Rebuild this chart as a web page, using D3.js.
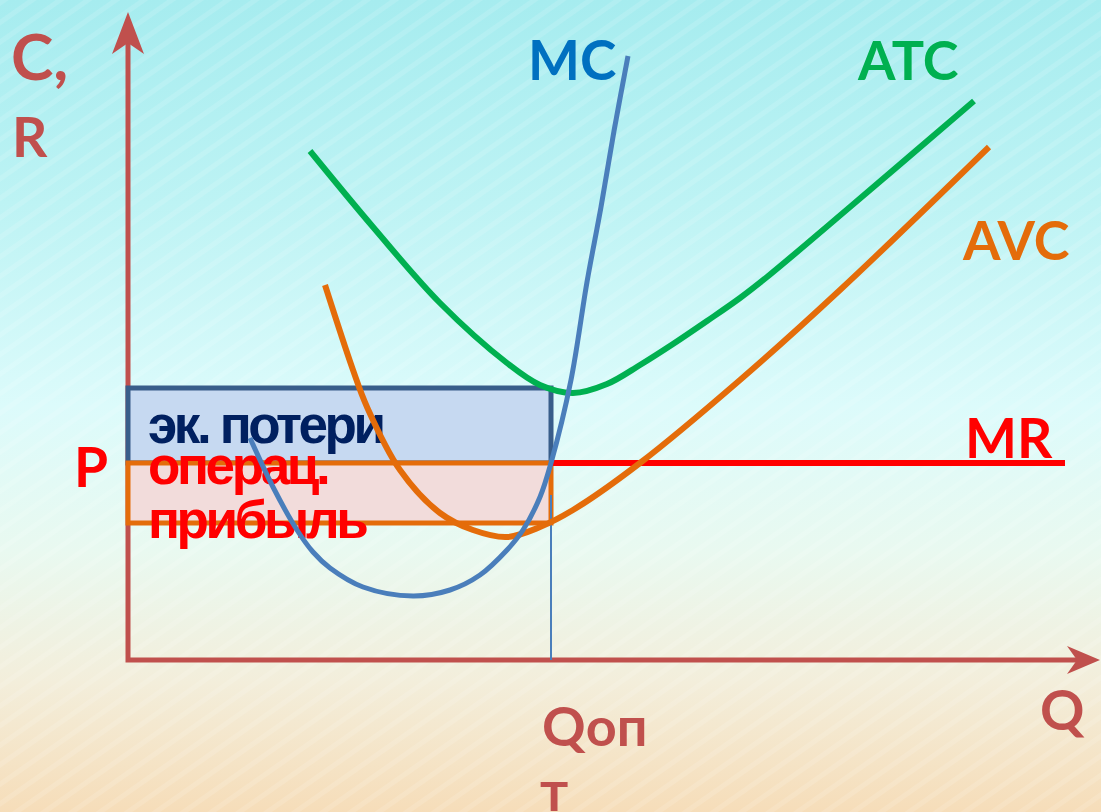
<!DOCTYPE html>
<html>
<head>
<meta charset="utf-8">
<script src="https://cdn.jsdelivr.net/npm/d3@7"></script>
<style>
  html, body { margin: 0; padding: 0; overflow: hidden; background: #fff; }
  svg { display: block; }
</style>
</head>
<body>
<script>
// ---- Cost curves: quantity (Q) and cost (C) values ----
const mcQ  = [12.2, 14.5, 16.9, 18.5, 20.2, 23.5, 28.5, 32.2, 35.2, 37.9, 39.5, 41.2, 42.3, 44.3, 45.9, 47.3, 48.6, 50.0];
const mcC  = [22.2, 17.3, 13.0, 10.8,  9.2,  7.3,  6.4,  7.0,  8.5, 11.0, 13.0, 16.3, 19.7, 28.0, 37.8, 45.3, 52.9, 60.4];

const atcQ = [18.2, 24.5, 31.2, 37.9, 41.2, 44.5, 47.9, 51.2, 54.5, 57.9, 61.2, 63.9, 72.2, 84.6];
const atcC = [50.9, 43.3, 35.7, 29.7, 27.5, 26.7, 27.6, 29.5, 31.6, 33.9, 36.2, 38.3, 45.3, 55.9];

const avcQ = [19.7, 22.5, 23.9, 27.2, 31.2, 34.5, 37.9, 41.2, 44.5, 51.2, 61.2, 71.2, 86.1];
const avcC = [37.5, 29.0, 25.3, 19.0, 14.7, 13.0, 12.3, 13.3, 15.0, 19.7, 28.0, 37.0, 51.3];

// ---- Key levels ----
const price  = 19.7;   // P = MR
const qOpt   = 42.3;   // optimal output
const atcOpt = 27.2;   // ATC at optimal output
const avcOpt = 13.7;   // AVC at optimal output
const mrEnd  = 93.7;   // right end of the MR line
const qMax   = 97.2;   // end of the Q axis
const cMax   = 64.8;   // end of the C axis

// ---- Labels ----
const curveLabels = ["MC", "ATC", "AVC", "MR"];
const axisLabels  = ["C,", "R", "Q", "P", "Qоп", "т"];
const areaLabels  = ["эк. потери", "операц.", "прибыль"];

const W = 1101, H = 812;
const svg = d3.select("body").append("svg").attr("width", W).attr("height", H);

const x = d3.scaleLinear().domain([0, qMax]).range([128, 1100]);
const y = d3.scaleLinear().domain([0, cMax]).range([660, 12]);

// ---- Background ----
const defs = svg.append("defs");
const bg = defs.append("linearGradient").attr("id", "bg")
  .attr("x1", 0).attr("y1", 0).attr("x2", 0).attr("y2", 1);
[[0, "#a6ecef"], [0.25, "#bdf3f4"], [0.5, "#dcfbfb"], [0.68, "#e9f9f0"],
 [0.84, "#f3eedb"], [1, "#f6ddb9"]].forEach(([o, c]) =>
  bg.append("stop").attr("offset", o).attr("stop-color", c));

const streaks = defs.append("pattern").attr("id", "streaks")
  .attr("width", 16).attr("height", 16)
  .attr("patternUnits", "userSpaceOnUse")
  .attr("patternTransform", "rotate(-35)");
streaks.append("rect").attr("width", 16).attr("height", 5)
  .attr("fill", "#ffffff").attr("opacity", 0.12);

svg.append("rect").attr("width", W).attr("height", H).attr("fill", "url(#bg)");
svg.append("rect").attr("width", W).attr("height", H).attr("fill", "url(#streaks)");

// ---- Axes ----
const axisColor = "#c0504d";
svg.append("path")
  .attr("d", `M${x(0)},${y(cMax) + 25} L${x(0)},${y(0)} L${x(qMax) - 20},${y(0)}`)
  .attr("fill", "none").attr("stroke", axisColor).attr("stroke-width", 5);
// arrow heads
const yTip = [x(0), y(cMax)];
svg.append("path")
  .attr("d", `M${yTip[0]},${yTip[1]} L${yTip[0] + 16},${yTip[1] + 42} L${yTip[0]},${yTip[1] + 31} L${yTip[0] - 16},${yTip[1] + 42} Z`)
  .attr("fill", axisColor);
const xTip = [x(qMax), y(0)];
svg.append("path")
  .attr("d", `M${xTip[0]},${xTip[1]} L${xTip[0] - 33},${xTip[1] + 14} L${xTip[0] - 23},${xTip[1]} L${xTip[0] - 33},${xTip[1] - 14} Z`)
  .attr("fill", axisColor);

// ---- Shaded areas ----
svg.append("rect")
  .attr("x", x(0)).attr("y", y(atcOpt))
  .attr("width", x(qOpt) - x(0)).attr("height", y(price) - y(atcOpt))
  .attr("fill", "#c6d9f1").attr("stroke", "#385d8a").attr("stroke-width", 5);
svg.append("rect")
  .attr("x", x(0)).attr("y", y(price))
  .attr("width", x(qOpt) - x(0)).attr("height", y(avcOpt) - y(price))
  .attr("fill", "#f2dcdb").attr("stroke", "#e46c0a").attr("stroke-width", 5);

// ---- Area labels ----
const areaStyle = (sel, color) => sel
  .attr("font-family", "'Liberation Sans', Arial, sans-serif")
  .attr("font-weight", 700).attr("font-size", 53)
  .attr("letter-spacing", -3.4).attr("fill", color);
areaStyle(svg.append("text").attr("x", 148).attr("y", 443).text(areaLabels[0]), "#002060");
areaStyle(svg.append("text").attr("x", 148).attr("y", 484).text(areaLabels[1]), "#ff0000");
areaStyle(svg.append("text").attr("x", 148).attr("y", 538).text(areaLabels[2]), "#ff0000");

// ---- Qopt drop line ----
svg.append("line")
  .attr("x1", x(qOpt)).attr("x2", x(qOpt))
  .attr("y1", y(price) + 32).attr("y2", y(0))
  .attr("stroke", "#4a7ebb").attr("stroke-width", 2);

// ---- MR line ----
svg.append("line")
  .attr("x1", x(qOpt)).attr("x2", x(mrEnd))
  .attr("y1", y(price)).attr("y2", y(price))
  .attr("stroke", "#ff0000").attr("stroke-width", 6);

// ---- Curves ----
const line = d3.line().x(d => x(d[0])).y(d => y(d[1])).curve(d3.curveCatmullRom.alpha(0.5));
const curve = (qs, cs, color, w) => svg.append("path")
  .datum(qs.map((q, i) => [q, cs[i]]))
  .attr("d", line).attr("fill", "none")
  .attr("stroke", color).attr("stroke-width", w)
  .attr("stroke-linecap", "butt");
curve(atcQ, atcC, "#00b050", 6);
curve(avcQ, avcC, "#e46c0a", 6);
curve(mcQ, mcC, "#4a7ebb", 5);

// ---- Curve and axis labels ----
const lbl = (t, px, py, color, size = 55) => svg.append("text")
  .attr("x", px).attr("y", py).text(t)
  .attr("font-family", "Lato, 'Open Sans', sans-serif")
  .attr("font-weight", 700).attr("font-size", size).attr("fill", color);
lbl(curveLabels[0], 528, 80, "#0070c0");
lbl(curveLabels[1], 858, 80, "#00b050", 54);
lbl(curveLabels[2], 963, 260, "#e46c0a", 54);
lbl(curveLabels[3], 965, 458, "#ff0000");
lbl(axisLabels[0], 11, 80, axisColor, 64);
lbl(axisLabels[1], 12, 157, axisColor);
lbl(axisLabels[2], 1040, 730, axisColor);
lbl(axisLabels[3], 74, 487, "#ff0000");
lbl(axisLabels[4], 542, 746, axisColor, 54);
lbl(axisLabels[5], 540, 811, axisColor);
</script>
</body>
</html>
